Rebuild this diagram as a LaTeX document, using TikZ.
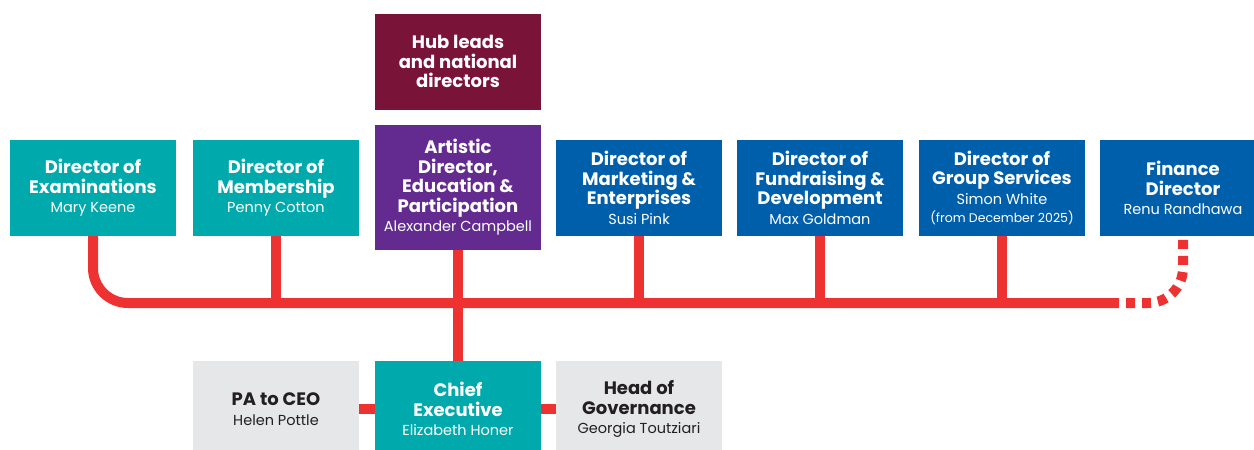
\documentclass[tikz,border=0pt]{standalone}
\usepackage{fontspec}
\setmainfont{Poppins}
\definecolor{teal}{HTML}{00A9AC}
\definecolor{plum}{HTML}{632B8F}
\definecolor{wine}{HTML}{7A1338}
\definecolor{navy}{HTML}{005FAA}
\definecolor{mist}{HTML}{E6E7E8}
\definecolor{linkred}{HTML}{EE3232}
\definecolor{ink}{HTML}{231F20}
\newcommand{\who}[1]{\\{\fontsize{14.5}{20}\selectfont\mdseries #1}}
\begin{document}
\begin{tikzpicture}[x=1pt, y=-1pt,
    role/.style={fill=#1, text=white, minimum width=166pt, minimum height=96pt, inner sep=0pt, align=center, font=\fontsize{18}{19.5}\selectfont\bfseries},
    link/.style={draw=linkred, line width=10pt},
    dotlink/.style={link, dash pattern=on 9pt off 7pt}
]
    \useasboundingbox (0,0) rectangle (1254,450);

    \node[role=wine] (hub) at (458,61.5) {Hub leads\\and national\\directors};
    \node[role=teal] (exam) at (93,188) {Director of\\Examinations\who{Mary Keene}};
    \node[role=teal] (memb) at (276,188) {Director of\\Membership\who{Penny Cotton}};
    \node[role=plum, minimum height=125pt] (art) at (458,187.5) {Artistic\\Director,\\Education \&\\Participation\who{Alexander Campbell}};
    \node[role=navy] (mkt) at (639,188) {Director of\\Marketing \&\\Enterprises\who{Susi Pink}};
    \node[role=navy] (fund) at (820,188) {Director of\\Fundraising \&\\Development\who{Max Goldman}};
    \node[role=navy] (grp) at (1002,188) {Director of\\Group Services\who{Simon White}\\[-1pt]{\fontsize{12.5}{17}\selectfont\mdseries (from December 2025)}};
    \node[role=navy] (fin) at (1183,188) {Finance\\Director\who{Renu Randhawa}};

    \node[role=mist, text=ink] (pa) at (276,409) {PA to CEO\who{Helen Pottle}};
    \node[role=teal] (ceo) at (458,409) {Chief\\Executive\who{Elizabeth Honer}};
    \node[role=mist, text=ink] (gov) at (639,409) {Head of\\Governance\who{Georgia Toutziari}};

    \coordinate (busend) at (1110,303);
    \draw[link, rounded corners=35pt] (exam.south) |- (busend);
    \draw[dotlink, rounded corners=35pt] (busend) -| (fin.south);
    \foreach \n in {memb, mkt, fund, grp}
        \draw[link] (\n.south) -- (\n.south |- busend);
    \draw[link] (art.south) -- (ceo.north);
    \draw[link] (pa.east) -- (ceo.west);
    \draw[link] (ceo.east) -- (gov.west);
\end{tikzpicture}
\end{document}
